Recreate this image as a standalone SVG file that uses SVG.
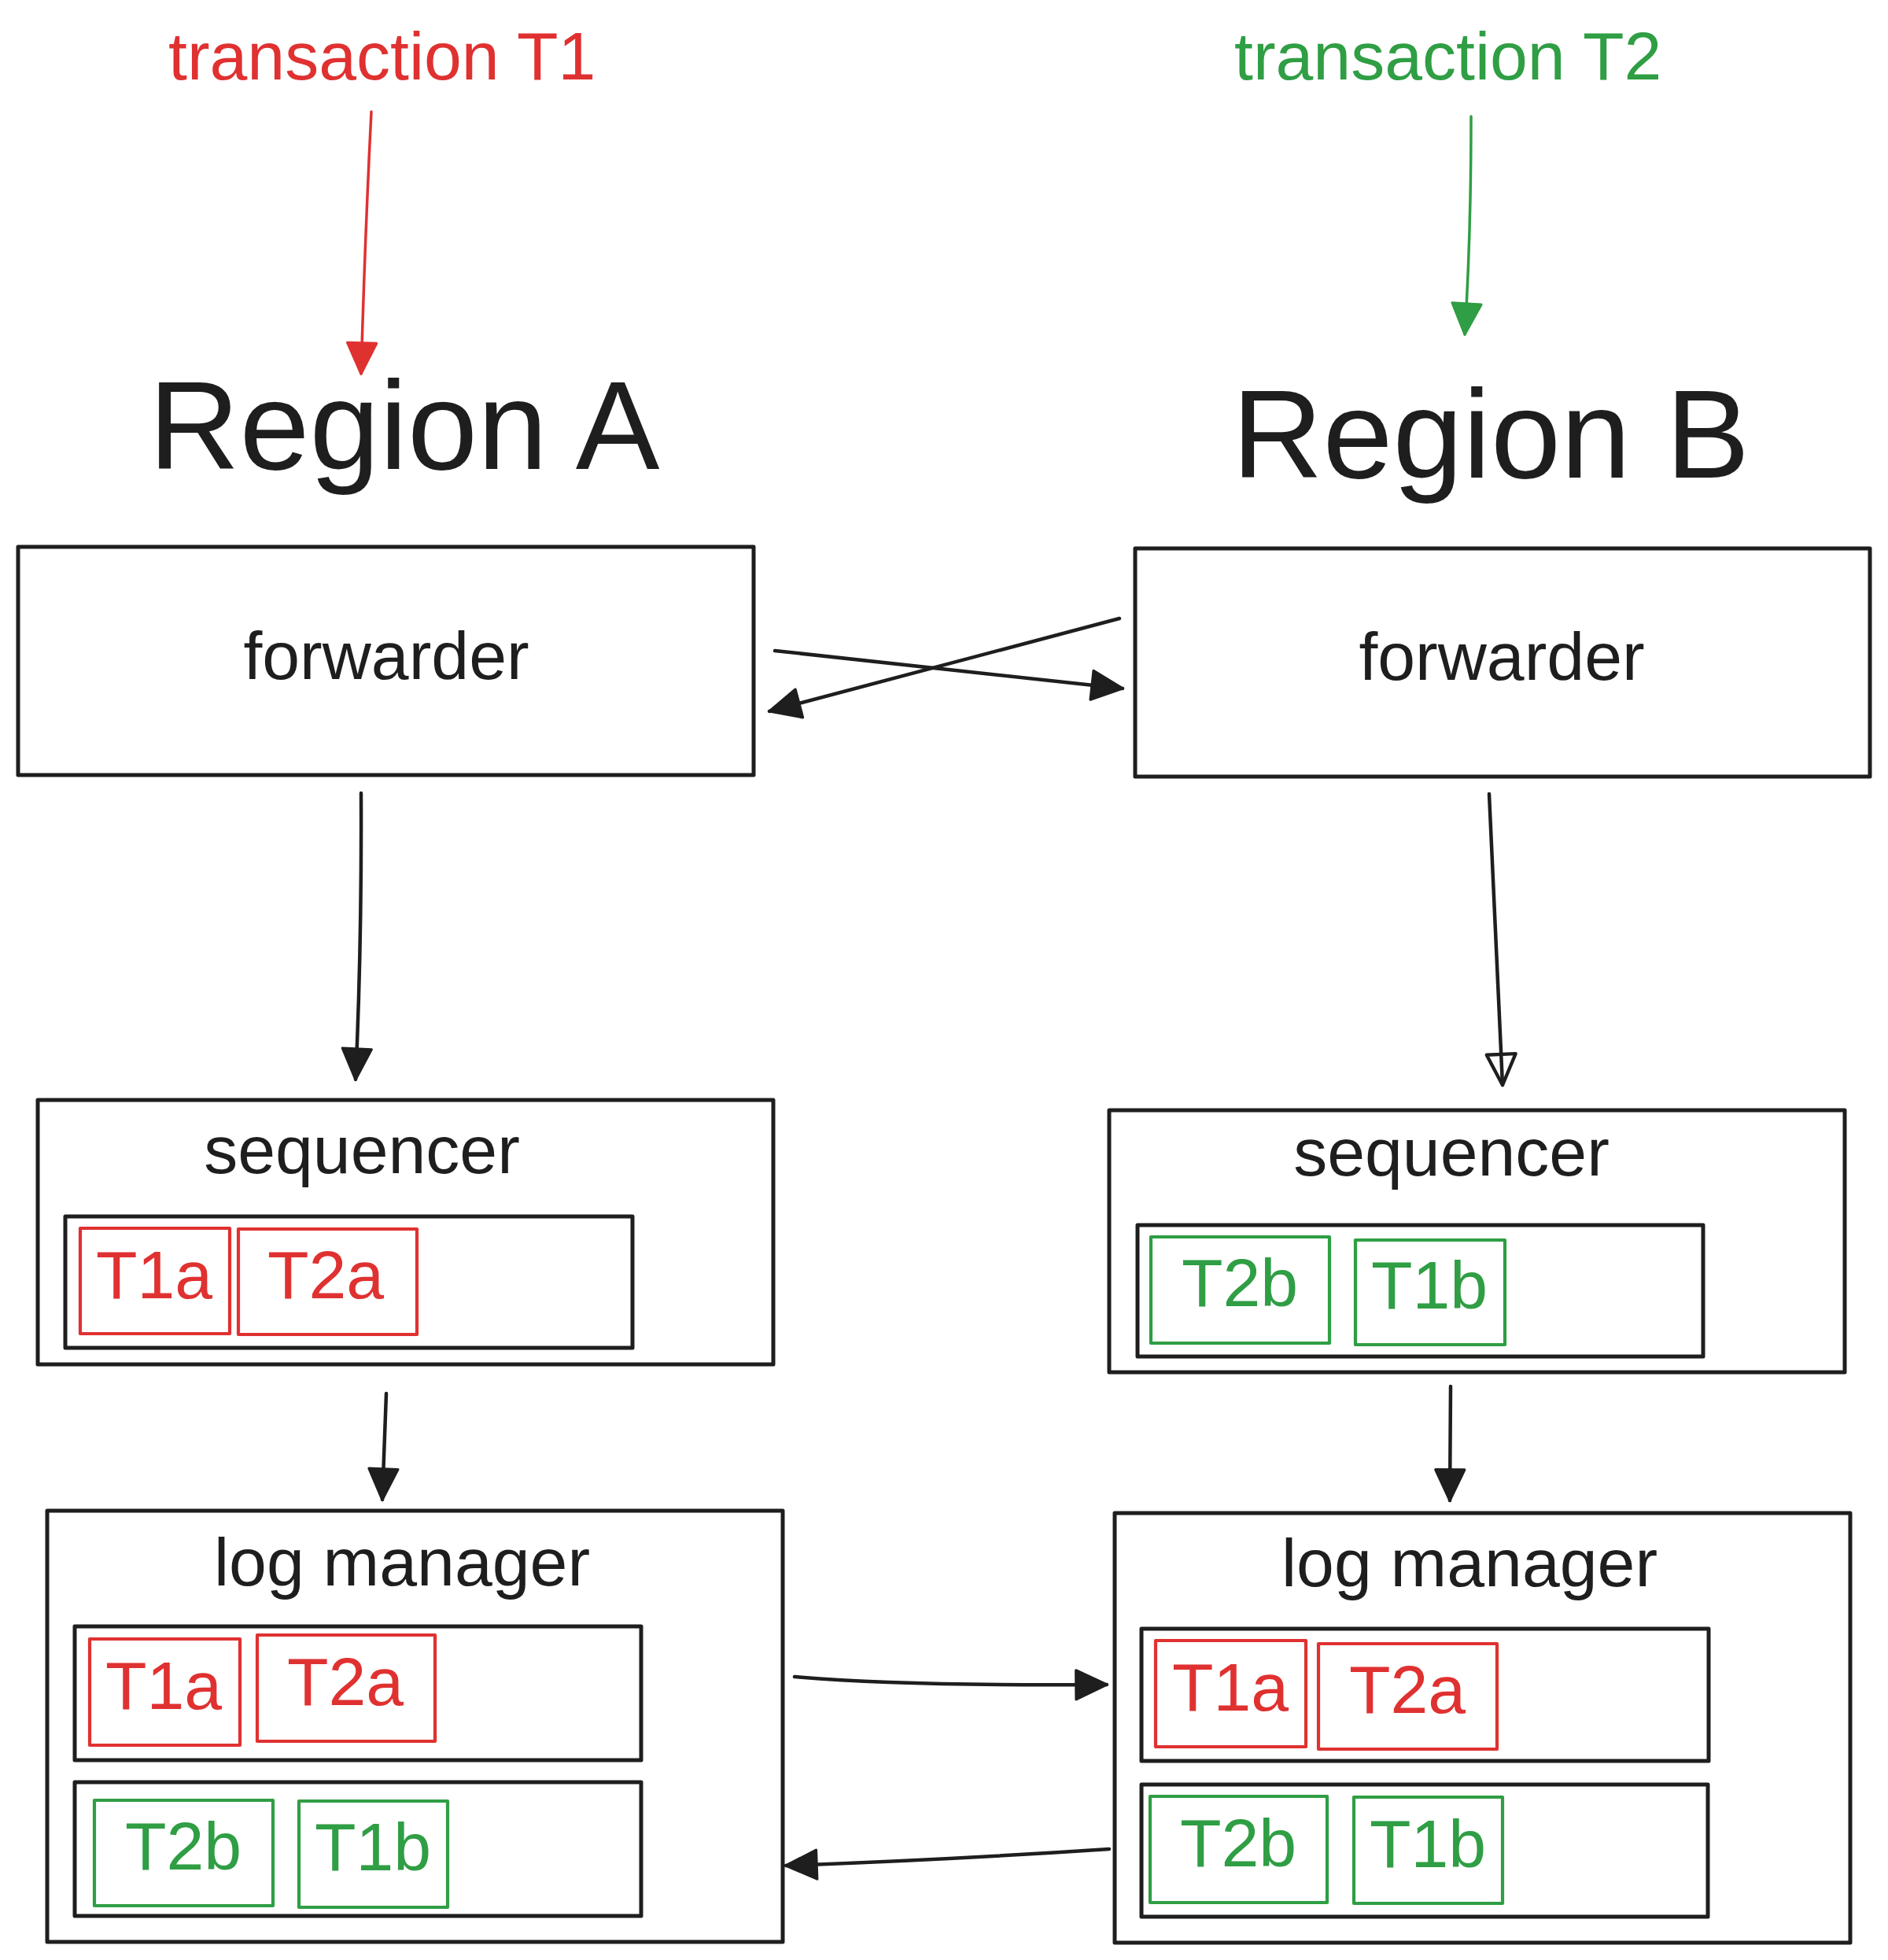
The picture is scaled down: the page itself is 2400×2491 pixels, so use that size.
<svg xmlns="http://www.w3.org/2000/svg" width="2400" height="2491" viewBox="0 0 2400 2491">
<style>
.bg{fill:#ffffff}
.box{fill:none;stroke:#1e1e1e;stroke-width:5;stroke-linejoin:round}
.rbox{fill:none;stroke:#e03131;stroke-width:4.2;stroke-linejoin:round}
.gbox{fill:none;stroke:#2f9e44;stroke-width:4.2;stroke-linejoin:round}
.t{font-family:"Liberation Sans",Arial,Helvetica,sans-serif;font-size:86px;fill:#1e1e1e}
.big{font-size:160px}
.red{fill:#e03131}
.green{fill:#2f9e44}
.mid{text-anchor:middle}
.conn{fill:none;stroke:#1e1e1e;stroke-width:4.5;stroke-linecap:round}
.rconn{fill:none;stroke:#e03131;stroke-width:3.5;stroke-linecap:round}
.gconn{fill:none;stroke:#2f9e44;stroke-width:3.5;stroke-linecap:round}
</style>
<defs>
<marker id="ahK" markerUnits="userSpaceOnUse" markerWidth="50" markerHeight="50" viewBox="-4 -4 46 42" refX="36" refY="17" orient="auto">
<path d="M0,0 L36,17 L0,34 Z" fill="#1e1e1e" stroke="#1e1e1e" stroke-width="3" stroke-linejoin="round"/>
</marker>
<marker id="ahKo" markerUnits="userSpaceOnUse" markerWidth="50" markerHeight="50" viewBox="-4 -4 46 42" refX="36" refY="17" orient="auto">
<path d="M0,0 L36,17 L0,34 Z" fill="none" stroke="#1e1e1e" stroke-width="4" stroke-linejoin="round"/>
</marker>
<marker id="ahR" markerUnits="userSpaceOnUse" markerWidth="50" markerHeight="50" viewBox="-4 -4 46 42" refX="36" refY="17" orient="auto">
<path d="M0,0 L36,17 L0,34 Z" fill="#e03131" stroke="#e03131" stroke-width="3" stroke-linejoin="round"/>
</marker>
<marker id="ahG" markerUnits="userSpaceOnUse" markerWidth="50" markerHeight="50" viewBox="-4 -4 46 42" refX="36" refY="17" orient="auto">
<path d="M0,0 L36,17 L0,34 Z" fill="#2f9e44" stroke="#2f9e44" stroke-width="3" stroke-linejoin="round"/>
</marker>
</defs>
<rect class="bg" x="0" y="0" width="2400" height="2491"/>

<g id="title-t1"><text class="t red" x="214" y="101">transaction T1</text></g>
<g id="title-t2"><text class="t green" x="1569" y="101">transaction T2</text></g>
<g id="region-a"><text class="t big" x="189" y="596">Region A</text></g>
<g id="region-b"><text class="t big" x="1566" y="607">Region B</text></g>

<g id="forwarder-a">
<rect class="box" x="23" y="695" width="935" height="290"/>
<text class="t mid" x="491" y="863">forwarder</text>
</g>
<g id="forwarder-b">
<rect class="box" x="1443" y="697" width="934" height="290"/>
<text class="t mid" x="1909" y="864">forwarder</text>
</g>

<g id="sequencer-a">
<rect class="box" x="48" y="1398" width="935" height="336"/>
<text class="t mid" x="460" y="1491">sequencer</text>
<rect class="box" x="83" y="1546" width="721" height="167"/>
<g id="seq-a-t1a"><rect class="rbox" x="102" y="1561" width="190" height="134"/><text class="t red" x="122" y="1650">T1a</text></g>
<g id="seq-a-t2a"><rect class="rbox" x="303" y="1562" width="227" height="134"/><text class="t red" x="340" y="1650">T2a</text></g>
</g>

<g id="sequencer-b">
<rect class="box" x="1410" y="1411" width="935" height="333"/>
<text class="t mid" x="1845" y="1494">sequencer</text>
<rect class="box" x="1446" y="1557" width="719" height="167"/>
<g id="seq-b-t2b"><rect class="gbox" x="1463" y="1572" width="227" height="135"/><text class="t green" x="1502" y="1660">T2b</text></g>
<g id="seq-b-t1b"><rect class="gbox" x="1723" y="1576" width="190" height="133"/><text class="t green" x="1743" y="1663">T1b</text></g>
</g>

<g id="log-manager-a">
<rect class="box" x="60" y="1920" width="935" height="548"/>
<text class="t mid" x="511" y="2015">log manager</text>
<rect class="box" x="95" y="2067" width="720" height="170"/>
<g id="log-a-t1a"><rect class="rbox" x="114" y="2083" width="191" height="135"/><text class="t red" x="134" y="2172">T1a</text></g>
<g id="log-a-t2a"><rect class="rbox" x="327" y="2078" width="226" height="135"/><text class="t red" x="365" y="2167">T2a</text></g>
<rect class="box" x="95" y="2265" width="720" height="170"/>
<g id="log-a-t2b"><rect class="gbox" x="120" y="2288" width="227" height="134"/><text class="t green" x="159" y="2376">T2b</text></g>
<g id="log-a-t1b"><rect class="gbox" x="380" y="2289" width="189" height="135"/><text class="t green" x="400" y="2377">T1b</text></g>
</g>

<g id="log-manager-b">
<rect class="box" x="1417" y="1923" width="935" height="546"/>
<text class="t mid" x="1868" y="2016">log manager</text>
<rect class="box" x="1451" y="2070" width="721" height="168"/>
<g id="log-b-t1a"><rect class="rbox" x="1469" y="2085" width="191" height="135"/><text class="t red" x="1490" y="2174">T1a</text></g>
<g id="log-b-t2a"><rect class="rbox" x="1676" y="2089" width="227" height="134"/><text class="t red" x="1715" y="2177">T2a</text></g>
<rect class="box" x="1451" y="2268" width="720" height="168"/>
<g id="log-b-t2b"><rect class="gbox" x="1462" y="2283" width="225" height="135"/><text class="t green" x="1500" y="2372">T2b</text></g>
<g id="log-b-t1b"><rect class="gbox" x="1721" y="2284" width="189" height="135"/><text class="t green" x="1741" y="2373">T1b</text></g>
</g>

<g id="connectors">
<path class="rconn" d="M472,142 Q464,300 459,475" marker-end="url(#ahR)"/>
<path class="gconn" d="M1870,148 Q1870,300 1862,425" marker-end="url(#ahG)"/>
<path class="conn" d="M985,827 L1427,875" marker-end="url(#ahK)"/>
<path class="conn" d="M1423,786 L978,904" marker-end="url(#ahK)"/>
<path class="conn" d="M459,1008 Q460,1200 452,1372" marker-end="url(#ahK)"/>
<path class="conn" d="M1893,1009 L1910,1379" marker-end="url(#ahKo)"/>
<path class="conn" d="M491,1771 L486,1906" marker-end="url(#ahK)"/>
<path class="conn" d="M1844,1762 L1843,1907" marker-end="url(#ahK)"/>
<path class="conn" d="M1010,2131 Q1150,2143 1407,2141" marker-end="url(#ahK)"/>
<path class="conn" d="M1410,2350 Q1200,2364 999,2371" marker-end="url(#ahK)"/>
</g>
</svg>
